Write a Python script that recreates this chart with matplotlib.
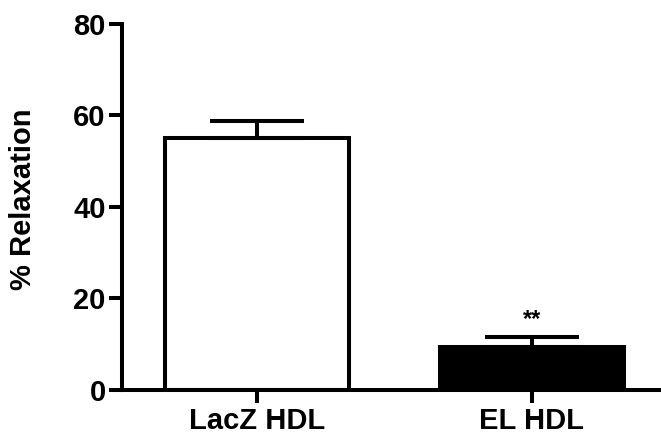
import matplotlib
matplotlib.use("Agg")
import matplotlib.pyplot as plt

#############################
### Data ###
#############################
groups = ["LacZ HDL", "EL HDL"]
relaxation = [55.0, 9.3]
sem = [3.9, 2.35]
bar_colors = ["white", "black"]
stars = ["", "**"]

plt.rcParams['font.family'] = ['Liberation Sans', 'DejaVu Sans']
plt.rcParams['font.weight'] = 'bold'

fig = plt.figure(figsize=(6.61, 4.34), dpi=100)
ax = fig.add_axes([0.184, 0.1014, 0.82, 0.8433])

lw = 2.9
x = list(range(len(groups)))
ax.bar(x, relaxation, width=0.67, color=bar_colors, edgecolor="black", linewidth=lw, zorder=2)
# only the upper half of the error bars
ax.errorbar(x, relaxation, yerr=[[0] * len(sem), sem], fmt="none", ecolor="black",
            elinewidth=lw, capsize=33.5, capthick=lw, zorder=3)

for xi, v, e, s in zip(x, relaxation, sem, stars):
    if s:
        ax.text(xi, v + e + 1.2, s, ha="center", va="bottom", fontsize=17, fontweight="bold")

ax.set_xlim(-0.494, 1.48)
ax.set_ylim(0, 80)
ax.set_yticks([0, 20, 40, 60, 80])
ax.set_xticks(x)
ax.set_xticklabels(groups, fontsize=21, fontweight="bold")
ax.set_ylabel("% Relaxation", fontsize=21, fontweight="bold")
ax.yaxis.set_label_coords(-0.157, 0.52)

for side in ["top", "right"]:
    ax.spines[side].set_visible(False)
for side in ["left", "bottom"]:
    ax.spines[side].set_linewidth(lw)
ax.tick_params(axis="both", width=lw, length=9.5, labelsize=21)
ax.tick_params(axis="y", pad=2)
ax.tick_params(axis="x", pad=3)
for lab in ax.get_yticklabels():
    lab.set_fontweight("bold")

fig.savefig("out.png", dpi=100)
